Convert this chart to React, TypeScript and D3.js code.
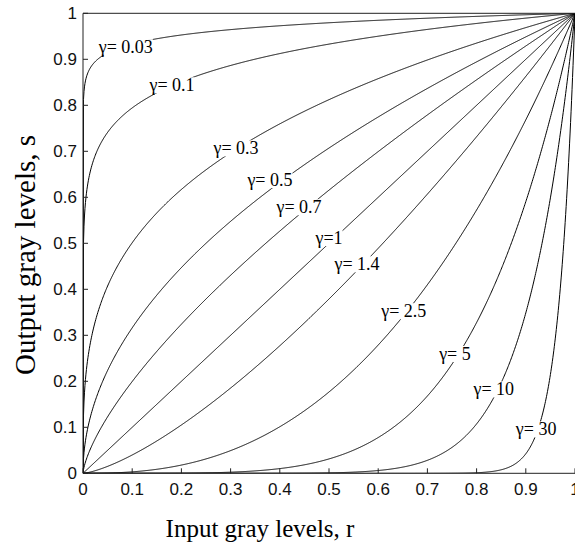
import React, { useEffect, useRef } from "react";
import * as d3 from "d3";

const gammas = [0.03, 0.1, 0.3, 0.5, 0.7, 1, 1.4, 2.5, 5, 10, 30];
const gammaLabels = ["γ= 0.03", "γ= 0.1", "γ= 0.3", "γ= 0.5", "γ= 0.7", "γ=1", "γ= 1.4", "γ= 2.5", "γ= 5", "γ= 10", "γ= 30"];
const labelR = [0.087, 0.181, 0.311, 0.38, 0.439, 0.5, 0.557, 0.652, 0.756, 0.835, 0.921];
const labelS = [0.927, 0.844, 0.707, 0.638, 0.579, 0.512, 0.455, 0.353, 0.26, 0.183, 0.096];
const xTicks = [0, 0.1, 0.2, 0.3, 0.4, 0.5, 0.6, 0.7, 0.8, 0.9, 1];
const xTickLabels = ["0", "0.1", "0.2", "0.3", "0.4", "0.5", "0.6", "0.7", "0.8", "0.9", "1"];
const yTicks = [0, 0.1, 0.2, 0.3, 0.4, 0.5, 0.6, 0.7, 0.8, 0.9, 1];
const yTickLabels = ["0", "0.1", "0.2", "0.3", "0.4", "0.5", "0.6", "0.7", "0.8", "0.9", "1"];
const xTitle = "Input gray levels, r";
const yTitle = "Output gray levels, s";

const W = 575;
const H = 556;

export default function App() {
  const ref = useRef<SVGSVGElement | null>(null);
  useEffect(() => {
    const svg = d3.select(ref.current);
    svg.selectAll("*").remove();
    const x = d3.scaleLinear().domain([0, 1]).range([83, 575]);
    const y = d3.scaleLinear().domain([0, 1]).range([473.3, 13.3]);

    const defs = svg.append("defs");
    defs.append("clipPath").attr("id", "plotclip").append("rect")
      .attr("x", x(0)).attr("y", y(1)).attr("width", x(1) - x(0)).attr("height", y(0) - y(1));

    const rs = d3.range(0, 1001).map((i) => i / 1000);

    const curves = svg.append("g").attr("clip-path", "url(#plotclip)");
    gammas.forEach((g) => {
      const pts = rs.map((r) => Math.pow(r, g));
      curves.append("path")
        .attr("d", d3.line<number>().x((_, i) => x(rs[i])).y((d) => y(d))(pts))
        .attr("fill", "none").attr("stroke", "#000").attr("stroke-width", 1);
    });

    // labels with white background
    const lg = svg.append("g");
    gammaLabels.forEach((t, i) => {
      const g = lg.append("g");
      const txt = g.append("text")
        .attr("x", x(labelR[i])).attr("y", y(labelS[i])).attr("dy", "0.35em")
        .attr("text-anchor", "middle")
        .attr("font-family", "'Liberation Serif', 'Times New Roman', serif")
        .attr("font-size", 18).attr("fill", "#000").text(t);
      const bb = (txt.node() as SVGTextElement).getBBox();
      g.insert("rect", "text").attr("x", bb.x).attr("y", bb.y + 2).attr("width", bb.width).attr("height", bb.height - 4).attr("fill", "#fff");
    });

    // axes
    const axisColor = "#222";
    svg.append("line").attr("x1", x(0)).attr("x2", x(1)).attr("y1", y(0)).attr("y2", y(0)).attr("stroke", axisColor);
    svg.append("line").attr("x1", x(0)).attr("x2", x(1)).attr("y1", y(1)).attr("y2", y(1)).attr("stroke", axisColor);
    svg.append("line").attr("x1", x(0)).attr("x2", x(0)).attr("y1", y(0)).attr("y2", y(1)).attr("stroke", axisColor);

    const tickFont = "'Liberation Sans Narrow', 'Liberation Sans', Arial, sans-serif";
    xTicks.forEach((v, i) => {
      svg.append("line").attr("x1", x(v)).attr("x2", x(v)).attr("y1", y(0)).attr("y2", y(0) - 5).attr("stroke", axisColor);
      svg.append("text").attr("x", x(v)).attr("y", 495).attr("text-anchor", "middle")
        .attr("font-family", tickFont).attr("font-size", 17).attr("fill", "#111").text(xTickLabels[i]);
    });
    yTicks.forEach((v, i) => {
      svg.append("line").attr("x1", x(0)).attr("x2", x(0) + 5).attr("y1", y(v)).attr("y2", y(v)).attr("stroke", axisColor);
      svg.append("text").attr("x", 77).attr("y", y(v)).attr("dy", "0.36em").attr("text-anchor", "end")
        .attr("font-family", tickFont).attr("font-size", 17).attr("fill", "#111").text(yTickLabels[i]);
    });

    svg.append("text").attr("x", 260).attr("y", 537).attr("text-anchor", "middle")
      .attr("font-family", "'Liberation Serif', 'Times New Roman', serif").attr("font-size", 25).attr("fill", "#000").text(xTitle);
    svg.append("text").attr("transform", "translate(35,255) rotate(-90)").attr("text-anchor", "middle")
      .attr("font-family", "'Liberation Serif', 'Times New Roman', serif").attr("font-size", 29).attr("fill", "#000").text(yTitle);
  }, []);
  return (
    <svg ref={ref} width={W} height={H} style={{ position: "absolute", left: 0, top: 0, background: "#fff" }} />
  );
}
